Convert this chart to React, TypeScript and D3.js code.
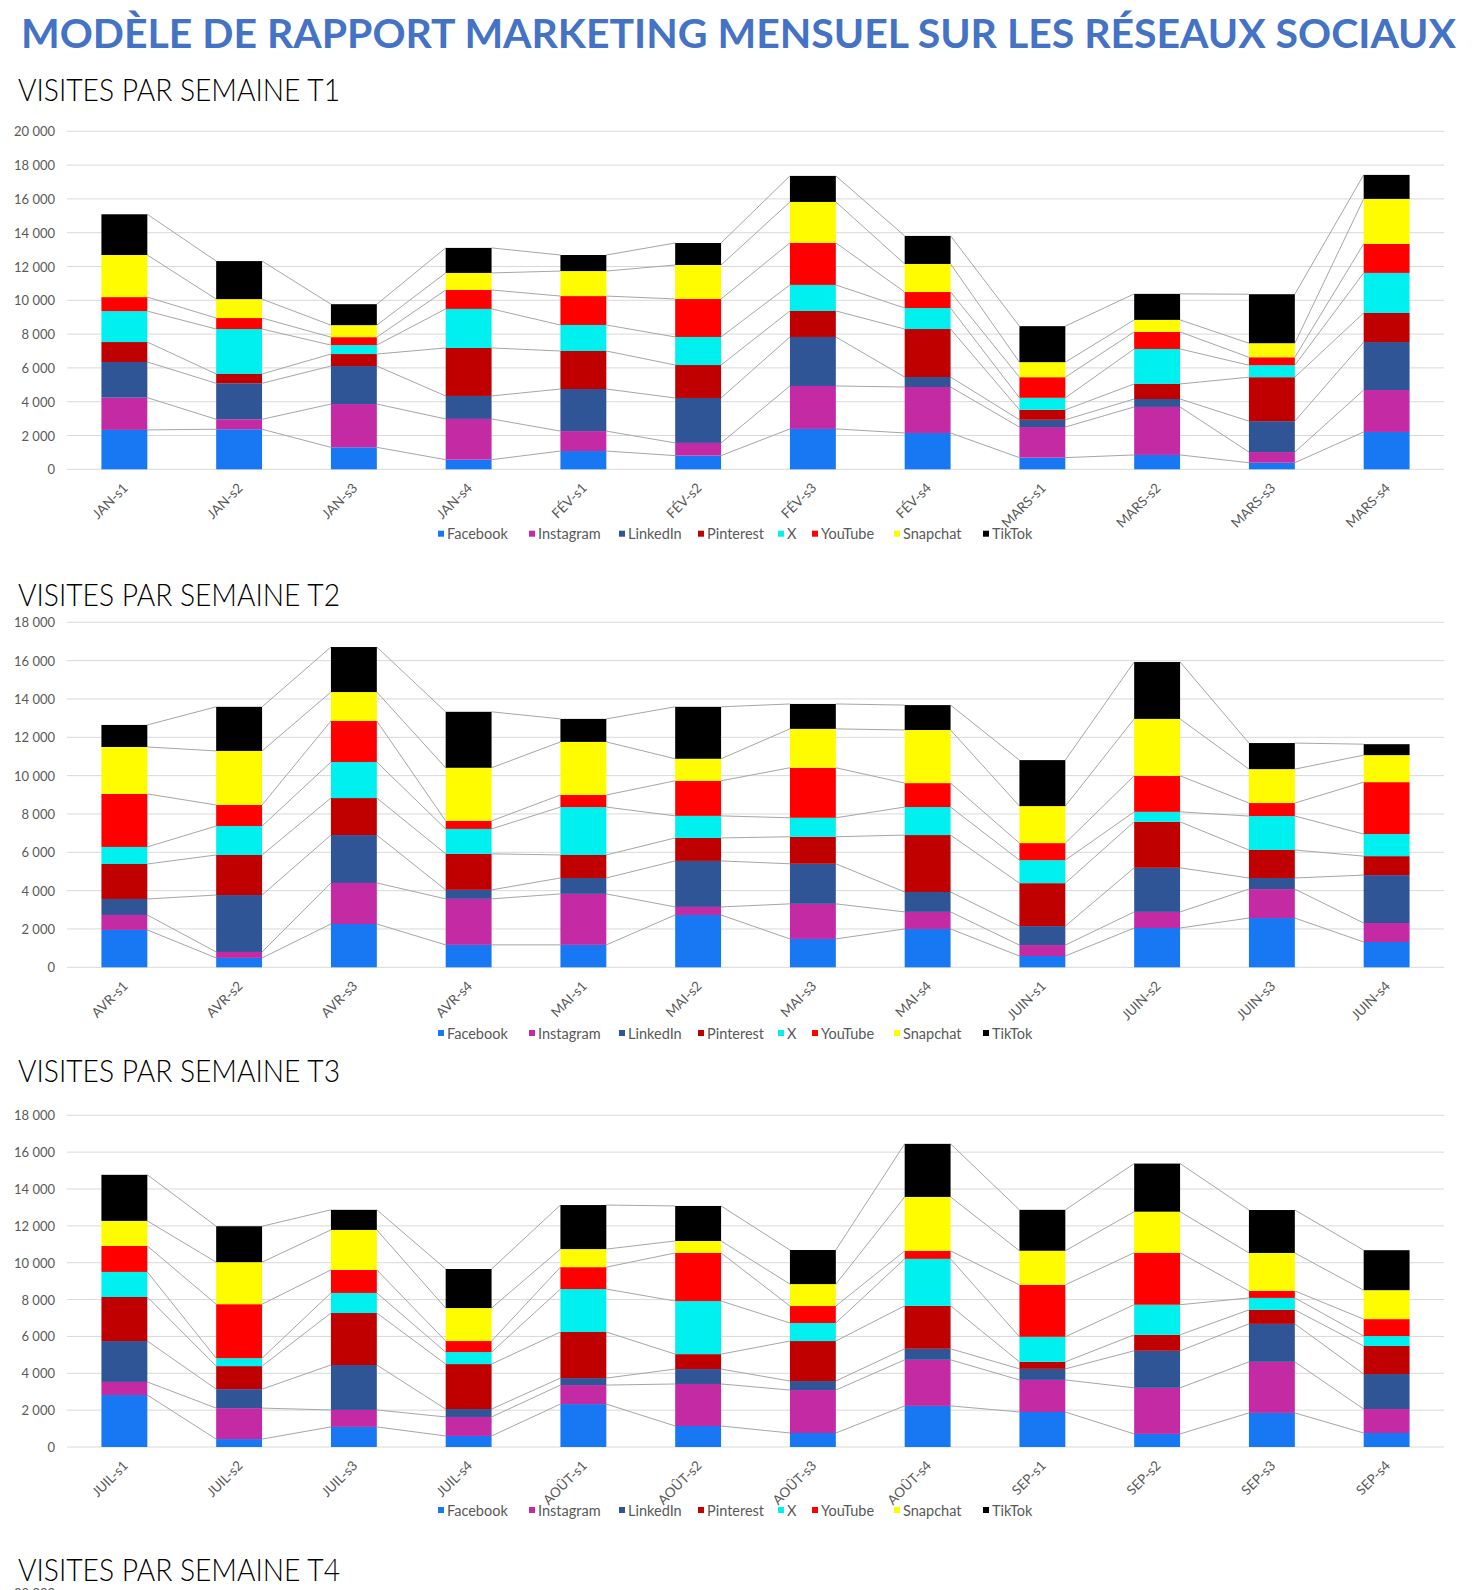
import React from "react";
import * as d3 from "d3";

const SERIES = ["Facebook", "Instagram", "LinkedIn", "Pinterest", "X", "YouTube", "Snapchat", "TikTok"];
const PALETTE = ["#1877F2", "#C32AA3", "#2F5597", "#C00000", "#00EFEF", "#FF0000", "#FFFC00", "#000000"];

const TITLE = "MODÈLE DE RAPPORT MARKETING MENSUEL SUR LES RÉSEAUX SOCIAUX";
const SUBTITLES = ["VISITES PAR SEMAINE T1", "VISITES PAR SEMAINE T2", "VISITES PAR SEMAINE T3", "VISITES PAR SEMAINE T4"];

const Q1_WEEKS = ["JAN-s1", "JAN-s2", "JAN-s3", "JAN-s4", "FÉV-s1", "FÉV-s2", "FÉV-s3", "FÉV-s4", "MARS-s1", "MARS-s2", "MARS-s3", "MARS-s4"];
const Q1_FACEBOOK = [2330, 2370, 1300, 570, 1080, 810, 2390, 2150, 690, 850, 390, 2210];
const Q1_INSTAGRAM = [1910, 590, 2560, 2410, 1180, 750, 2540, 2720, 1810, 2840, 630, 2480];
const Q1_LINKEDIN = [2110, 2130, 2250, 1360, 2490, 2660, 2900, 590, 430, 470, 1830, 2840];
const Q1_PINTEREST = [1180, 550, 710, 2840, 2250, 1950, 1540, 2840, 590, 890, 2600, 1720];
const Q1_X = [1830, 2660, 530, 2310, 1540, 1660, 1540, 1240, 710, 2070, 710, 2370];
const Q1_YOUTUBE = [830, 650, 470, 1120, 1710, 2250, 2490, 950, 1220, 1010, 470, 1720];
const Q1_SNAPCHAT = [2490, 1120, 710, 1010, 1480, 2010, 2420, 1660, 890, 710, 830, 2660];
const Q1_TIKTOK = [2410, 2250, 1240, 1480, 950, 1300, 1540, 1660, 2130, 1540, 2900, 1420];

const Q2_WEEKS = ["AVR-s1", "AVR-s2", "AVR-s3", "AVR-s4", "MAI-s1", "MAI-s2", "MAI-s3", "MAI-s4", "JUIN-s1", "JUIN-s2", "JUIN-s3", "JUIN-s4"];
const Q2_FACEBOOK = [1950, 490, 2260, 1170, 1170, 2730, 1480, 2000, 590, 2050, 2570, 1320];
const Q2_INSTAGRAM = [780, 310, 2140, 2400, 2660, 420, 1830, 890, 570, 840, 1510, 990];
const Q2_LINKEDIN = [835, 2970, 2500, 470, 830, 2400, 2090, 1040, 990, 2300, 580, 2500];
const Q2_PINTEREST = [1825, 2090, 1930, 1880, 1200, 1200, 1410, 2970, 2240, 2400, 1460, 990];
const Q2_X = [890, 1510, 1880, 1300, 2500, 1150, 990, 1460, 1200, 520, 1770, 1150];
const Q2_YOUTUBE = [2765, 1100, 2140, 420, 630, 1830, 2610, 1250, 890, 1880, 680, 2710];
const Q2_SNAPCHAT = [2450, 2820, 1510, 2770, 2770, 1150, 2030, 2770, 1930, 2970, 1770, 1410];
const Q2_TIKTOK = [1150, 2300, 2350, 2920, 1200, 2710, 1300, 1300, 2400, 2970, 1360, 570];

const Q3_WEEKS = ["JUIL-s1", "JUIL-s2", "JUIL-s3", "JUIL-s4", "AOÛT-s1", "AOÛT-s2", "AOÛT-s3", "AOÛT-s4", "SEP-s1", "SEP-s2", "SEP-s3", "SEP-s4"];
const Q3_FACEBOOK = [2820, 430, 1090, 600, 2330, 1140, 760, 2230, 1900, 710, 1850, 760];
const Q3_INSTAGRAM = [710, 1680, 920, 1030, 1030, 2280, 2330, 2500, 1740, 2500, 2770, 1300];
const Q3_LINKEDIN = [2220, 1030, 2440, 430, 380, 810, 490, 600, 600, 2010, 2060, 1900];
const Q3_PINTEREST = [2390, 1250, 2820, 2440, 2500, 810, 2170, 2330, 380, 870, 760, 1520];
const Q3_X = [1360, 430, 1090, 650, 2330, 2880, 980, 2550, 1360, 1630, 650, 540];
const Q3_YOUTUBE = [1410, 2930, 1250, 600, 1190, 2610, 920, 430, 2820, 2820, 380, 920];
const Q3_SNAPCHAT = [1360, 2280, 2170, 1790, 980, 650, 1190, 2930, 1850, 2230, 2060, 1570];
const Q3_TIKTOK = [2500, 1950, 1090, 2120, 2390, 1900, 1850, 2880, 2220, 2610, 2330, 2170];

const Y_MAX = [20000, 18000, 18000];
const Y_STEP = 2000;
const Q4_TOP_TICK = 20000;

const QUARTERS = [
  { weeks: Q1_WEEKS, values: [Q1_FACEBOOK, Q1_INSTAGRAM, Q1_LINKEDIN, Q1_PINTEREST, Q1_X, Q1_YOUTUBE, Q1_SNAPCHAT, Q1_TIKTOK] },
  { weeks: Q2_WEEKS, values: [Q2_FACEBOOK, Q2_INSTAGRAM, Q2_LINKEDIN, Q2_PINTEREST, Q2_X, Q2_YOUTUBE, Q2_SNAPCHAT, Q2_TIKTOK] },
  { weeks: Q3_WEEKS, values: [Q3_FACEBOOK, Q3_INSTAGRAM, Q3_LINKEDIN, Q3_PINTEREST, Q3_X, Q3_YOUTUBE, Q3_SNAPCHAT, Q3_TIKTOK] },
];

// layout (pixels)
const W = 1472;
const H = 1590;
const PLOT_X0 = 67;
const PLOT_X1 = 1444;
const LAYOUTS = [
  { top: 131.3, bottom: 469.3, legendY: 533.7, subY: 101 },
  { top: 622.3, bottom: 967.3, legendY: 1033, subY: 606 },
  { top: 1115.3, bottom: 1447, legendY: 1510, subY: 1082 },
];
const Q4_SUB_Y = 1581;
const LEGEND_X = [438, 529, 619, 698, 778, 812, 894, 983];
const FONT = "Lato, 'Open Sans', sans-serif";
const AXIS_COLOR = "#595959";
const GRID_COLOR = "#d9d9d9";
const CONNECTOR = "#a6a6a6";

const fmt = (v: number) => d3.format(",")(v).replace(/,/g, " ");

function Chart({ q, idx }: { q: any; idx: number }) {
  const L = LAYOUTS[idx];
  const x = d3.scaleBand<string>().domain(q.weeks).range([PLOT_X0, PLOT_X1]).paddingInner(0.6).paddingOuter(0.3);
  const y = d3.scaleLinear().domain([0, Y_MAX[idx]]).range([L.bottom, L.top]);
  const rows = q.weeks.map((w: string, i: number) => {
    const r: any = { week: w };
    SERIES.forEach((s, k) => (r[s] = q.values[k][i]));
    return r;
  });
  const stacked = d3.stack().keys(SERIES)(rows);
  const ticks = d3.range(0, Y_MAX[idx] + 1, Y_STEP);
  const bw = x.bandwidth();
  return (
    <g>
      {ticks.map((t) => (
        <g key={t}>
          <line x1={PLOT_X0} x2={PLOT_X1} y1={y(t)} y2={y(t)} stroke={GRID_COLOR} strokeWidth={1} />
          <text x={55} y={y(t)} textAnchor="end" dominantBaseline="central" fontSize={13} fill={AXIS_COLOR} fontFamily={FONT}>
            {fmt(t)}
          </text>
        </g>
      ))}
      {stacked.map((layer: any, k: number) => (
        <g key={"c" + k}>
          {layer.slice(0, -1).map((d: any, i: number) => {
            const n = layer[i + 1];
            return (
              <line
                key={i}
                x1={(x(d.data.week) as number) + bw}
                y1={y(d[1])}
                x2={x(n.data.week) as number}
                y2={y(n[1])}
                stroke={CONNECTOR}
                strokeWidth={1}
              />
            );
          })}
        </g>
      ))}
      {stacked.map((layer: any, k: number) => (
        <g key={"b" + k} fill={PALETTE[k]}>
          {layer.map((d: any, i: number) => (
            <rect key={i} x={x(d.data.week)} y={y(d[1])} width={bw} height={y(d[0]) - y(d[1])} />
          ))}
        </g>
      ))}
      {q.weeks.map((w: string) => (
        <text
          key={w}
          transform={`translate(${(x(w) as number) + bw / 2 + 1},${L.bottom + 16}) rotate(-45)`}
          textAnchor="end"
          dominantBaseline="central"
          fontSize={13.5}
          fill={AXIS_COLOR}
          fontFamily={FONT}
        >
          {w}
        </text>
      ))}
      {SERIES.map((s, k) => (
        <g key={s}>
          <rect x={LEGEND_X[k]} y={L.legendY - 3} width={6} height={6} fill={PALETTE[k]} />
          <text x={LEGEND_X[k] + 9} y={L.legendY} dominantBaseline="central" fontSize={14.5} fill={AXIS_COLOR} fontFamily={FONT}>
            {s}
          </text>
        </g>
      ))}
    </g>
  );
}

export default function App() {
  React.useEffect(() => {
    document.body.style.margin = "0";
    document.body.style.overflow = "hidden";
  }, []);
  return (
    <svg width={W} height={H} style={{ position: "absolute", left: 0, top: 0, display: "block", background: "#fff" }}>
      <rect width={W} height={H} fill="#fff" />
      <text x={21} y={48} fontSize={40} fontWeight={700} fill="#4472C4" fontFamily={FONT} textLength={1435} lengthAdjust="spacingAndGlyphs">
        {TITLE}
      </text>
      {LAYOUTS.map((L, i) => (
        <text key={i} x={18} y={L.subY} fontSize={31} fontWeight={300} fill="#000" fontFamily={FONT} textLength={322} lengthAdjust="spacingAndGlyphs">
          {SUBTITLES[i]}
        </text>
      ))}
      <text x={18} y={Q4_SUB_Y} fontSize={31} fontWeight={300} fill="#000" fontFamily={FONT} textLength={322} lengthAdjust="spacingAndGlyphs">
        {SUBTITLES[3]}
      </text>
      <text x={55} y={1598} textAnchor="end" fontSize={13} fill={AXIS_COLOR} fontFamily={FONT}>
        {fmt(Q4_TOP_TICK)}
      </text>
      {QUARTERS.map((q, i) => (
        <Chart key={i} q={q} idx={i} />
      ))}
    </svg>
  );
}
